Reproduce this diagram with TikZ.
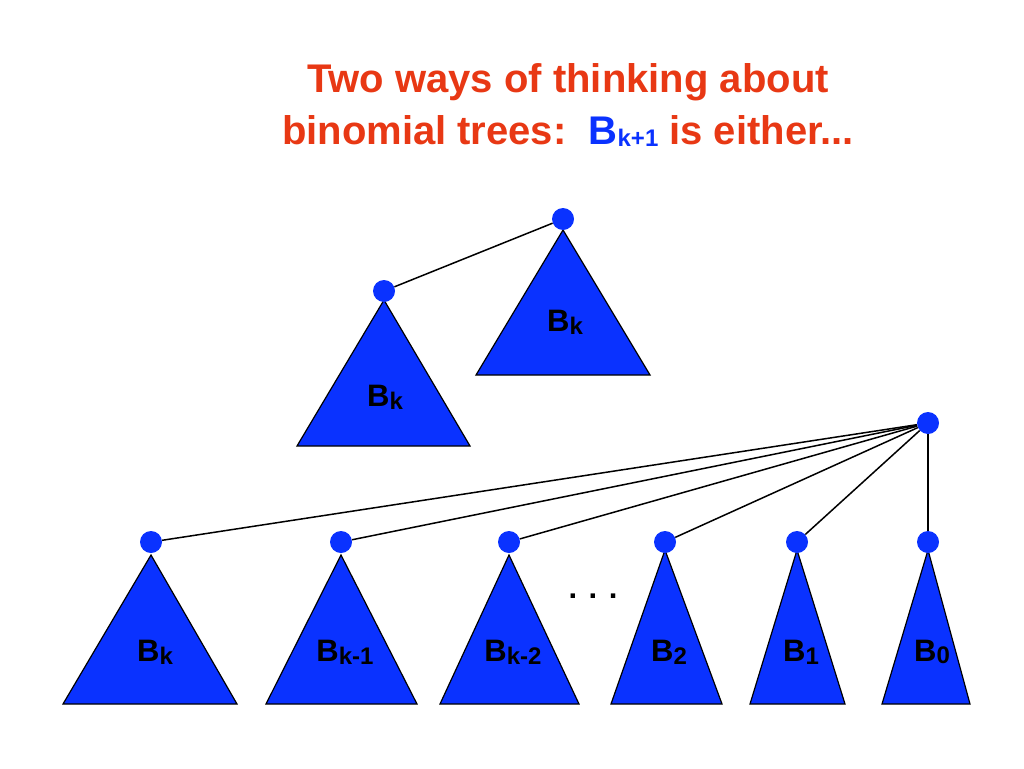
\documentclass[tikz,border=0pt]{standalone}
\usepackage{fontspec}
\setmainfont{Liberation Sans}
\definecolor{ttl}{RGB}{232,56,20}
\definecolor{tb}{RGB}{10,50,255}
\newcommand{\Bs}[1]{B{\fontsize{24}{24}\selectfont\raisebox{-0.12em}{#1}}}
\begin{document}
\begin{tikzpicture}[x=1pt,y=-1pt,
  tri/.style={fill=tb,draw=black,line width=1.2pt},
  dotn/.style={circle,fill=tb,inner sep=0pt,minimum size=22pt},
  lbl/.style={font=\fontsize{31}{31}\selectfont\bfseries},
  edge/.style={line width=1.5pt}]
\useasboundingbox (0,0) rectangle (1024,768);
\node[font=\fontsize{40}{52}\selectfont\bfseries,text=ttl,align=center] (title) at (568,105)
 {Two ways of thinking about\\binomial trees:\ \ \textcolor{tb}{\Bs{k+1}} is either...};
% first view
\draw[tri] (563,230) -- (650,375) -- (476,375) -- cycle;
\draw[tri] (384,300) -- (470,446) -- (297,446) -- cycle;
\node[dotn] (r1) at (563,219) {};
\node[dotn] (c1) at (384,291) {};
\draw[edge] (c1) -- (r1);
\node[lbl] at (565,322) {\Bs{k}};
\node[lbl] at (385,397) {\Bs{k}};
% second view
\node[dotn] (r2) at (928,423) {};
\foreach \i/\x/\ax/\bl/\br/\yy/\t in {1/151/555/63/237/555/k,2/341/555/266/417/555/k-1,3/509/555/440/579/555/k-2,4/665/550/611/722/550/2,5/797/550/750/845/550/1,6/928/550/882/970/550/0}{
  \draw[tri] (\x,\ax) -- (\br,704) -- (\bl,704) -- cycle;
  \node[dotn] (n\i) at (\x,542) {};
  \draw[edge] (n\i) -- (r2);
  \node[lbl] at (\x+4,652) {\Bs{\t}};
}
\node[lbl] (dots) at (593,596) {. . .};
\end{tikzpicture}
\end{document}
